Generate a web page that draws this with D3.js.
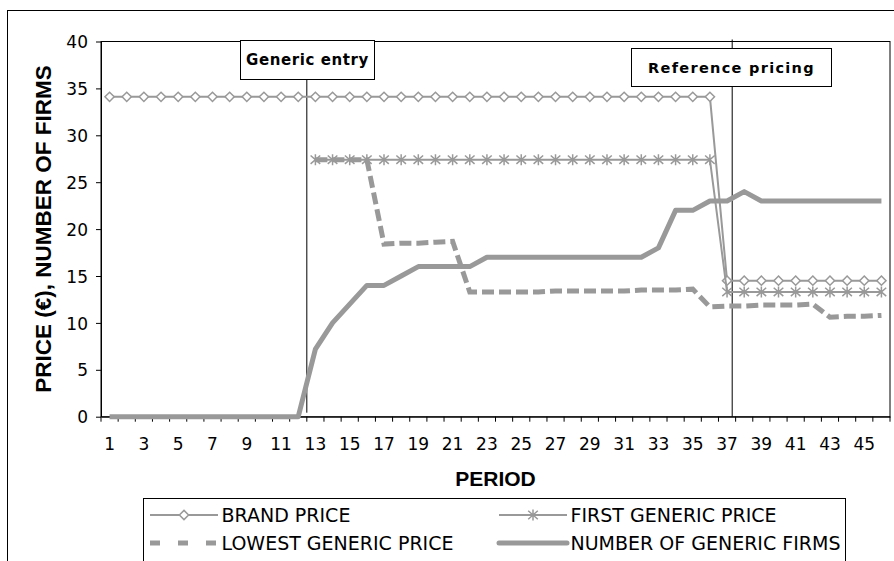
<!DOCTYPE html>
<html>

<head>
    <meta charset="utf-8">
    <script src="https://cdn.jsdelivr.net/npm/d3@7/dist/d3.min.js"></script>
    <style>
        body { margin: 0; background: #fff; }
    </style>
</head>

<body>
    <div id="my_dataviz"></div>
    <script>

        // data (periods 1..46)
        var periods = d3.range(1, 47);
        var brandPrice = [
            34.1, 34.1, 34.1, 34.1, 34.1, 34.1, 34.1, 34.1, 34.1, 34.1, 34.1, 34.1,
            34.1, 34.1, 34.1, 34.1, 34.1, 34.1, 34.1, 34.1, 34.1, 34.1, 34.1, 34.1,
            34.1, 34.1, 34.1, 34.1, 34.1, 34.1, 34.1, 34.1, 34.1, 34.1, 34.1, 34.1,
            14.5, 14.5, 14.5, 14.5, 14.5, 14.5, 14.5, 14.5, 14.5, 14.5];
        var firstGenericPrice = [
            null, null, null, null, null, null, null, null, null, null, null, null,
            27.4, 27.4, 27.4, 27.4, 27.4, 27.4, 27.4, 27.4, 27.4, 27.4, 27.4, 27.4,
            27.4, 27.4, 27.4, 27.4, 27.4, 27.4, 27.4, 27.4, 27.4, 27.4, 27.4, 27.4,
            13.3, 13.3, 13.3, 13.3, 13.3, 13.3, 13.3, 13.3, 13.3, 13.3];
        var lowestGenericPrice = [
            null, null, null, null, null, null, null, null, null, null, null, null,
            27.4, 27.4, 27.4, 27.4, 18.4, 18.5, 18.5, 18.6, 18.7, 13.3, 13.3, 13.3,
            13.3, 13.3, 13.4, 13.4, 13.4, 13.4, 13.4, 13.5, 13.5, 13.5, 13.6, 11.7,
            11.8, 11.8, 11.9, 11.9, 11.9, 12.0, 10.6, 10.7, 10.7, 10.8];
        var genericFirms = [
            0, 0, 0, 0, 0, 0, 0, 0, 0, 0, 0, 0,
            7.2, 10, 12, 14, 14, 15, 16, 16, 16, 16, 17, 17,
            17, 17, 17, 17, 17, 17, 17, 17, 18, 22, 22, 23,
            23, 24, 23, 23, 23, 23, 23, 23, 23, 23];
        var yTicks = [0, 5, 10, 15, 20, 25, 30, 35, 40];
        var seriesNames = ["BRAND PRICE", "FIRST GENERIC PRICE", "LOWEST GENERIC PRICE", "NUMBER OF GENERIC FIRMS"];
        // annotations: label and position in period units
        var events = [
            { label: "Generic entry", at: 12.5 },
            { label: "Reference pricing", at: 37.3 }
        ];

        var W = 894, H = 561;
        var margin = { top: 41.5, right: 4, bottom: 144.3, left: 101 },
            width = W - margin.left - margin.right,
            height = H - margin.top - margin.bottom;

        var grey = "#999999";

        var root = d3.select("#my_dataviz")
            .append("svg")
            .attr("width", W)
            .attr("height", H)
            .style("display", "block");

        // outer chart border
        root.append("rect")
            .attr("x", 7.5).attr("y", 10.5)
            .attr("width", W + 20).attr("height", H + 20)
            .attr("fill", "none").attr("stroke", "#000").attr("stroke-width", 1);

        var svg = root.append("g")
            .attr("transform", "translate(" + margin.left + "," + margin.top + ")");

        var x = d3.scaleBand()
            .domain(periods)
            .range([0, width])
            .padding(0);
        var bw = x.bandwidth();
        var cx = function (p) { return x(p) + bw / 2; };
        // continuous position in period units (for annotation lines)
        var xp = d3.scaleLinear().domain([0.5, 46.5]).range([0, width]);

        var y = d3.scaleLinear()
            .domain([0, 40])
            .range([height, 0]);

        // plot area border
        svg.append("rect")
            .attr("x", 0).attr("y", 0)
            .attr("width", width).attr("height", height)
            .attr("fill", "none").attr("stroke", "#000").attr("stroke-width", 1);

        // Y axis
        var yAxis = svg.append("g")
            .call(d3.axisLeft(y).tickValues(yTicks).tickSize(5).tickSizeOuter(0).tickPadding(8));
        yAxis.selectAll("text")
            .style("font-family", "DejaVu Sans, Verdana, sans-serif")
            .style("font-size", "17px")
            .attr("dy", "0.36em")
            .attr("fill", "#000");

        // X axis (labels at category centres, ticks between categories)
        var xAxis = svg.append("g")
            .attr("transform", "translate(0," + height + ")")
            .call(d3.axisBottom(x)
                .tickSizeInner(0).tickSizeOuter(0).tickPadding(21)
                .tickFormat(function (d) { return d % 2 === 1 ? d : ""; }));
        xAxis.selectAll("text")
            .style("font-family", "DejaVu Sans, Verdana, sans-serif")
            .style("font-size", "17px")
            .attr("fill", "#000");
        xAxis.selectAll(".tickmark")
            .data(periods.concat([47]))
            .enter().append("line")
            .attr("class", "tickmark")
            .attr("x1", function (d) { return d === 47 ? width : x(d); })
            .attr("x2", function (d) { return d === 47 ? width : x(d); })
            .attr("y1", 0).attr("y2", 5)
            .attr("stroke", "#000");
        root.selectAll(".domain").attr("stroke", "#000");

        // axis titles
        svg.append("text")
            .attr("x", width / 2)
            .attr("y", height + 69)
            .attr("text-anchor", "middle")
            .style("font-family", "Liberation Sans, Arial, sans-serif")
            .style("font-weight", "bold")
            .style("font-size", "21px")
            .text("PERIOD");
        svg.append("text")
            .attr("transform", "translate(" + (51 - margin.left) + "," + (height / 2) + ") rotate(-90)")
            .attr("text-anchor", "middle")
            .style("font-family", "Liberation Sans, Arial, sans-serif")
            .style("font-weight", "bold")
            .style("font-size", "22.5px")
            .text("PRICE (\u20AC), NUMBER OF FIRMS");

        // event lines
        svg.append("line")
            .attr("x1", xp(events[0].at)).attr("x2", xp(events[0].at))
            .attr("y1", 37).attr("y2", height - 4)
            .attr("stroke", "#000").attr("stroke-width", 1);
        svg.append("line")
            .attr("x1", xp(events[1].at)).attr("x2", xp(events[1].at))
            .attr("y1", -2).attr("y2", height)
            .attr("stroke", "#000").attr("stroke-width", 1);

        var lineGen = function (vals) {
            return d3.line()
                .defined(function (d) { return d != null; })
                .x(function (d, i) { return cx(periods[i]); })
                .y(function (d) { return y(d); })(vals);
        };

        // brand price
        svg.append("path")
            .attr("d", lineGen(brandPrice))
            .attr("fill", "none").attr("stroke", grey).attr("stroke-width", 2);
        var diamond = "M0,-4.6L4.6,0L0,4.6L-4.6,0Z";
        svg.append("g").selectAll("path")
            .data(brandPrice)
            .enter().append("path")
            .attr("transform", function (d, i) { return "translate(" + cx(periods[i]) + "," + y(d) + ")"; })
            .attr("d", diamond)
            .attr("fill", "#fff").attr("stroke", grey).attr("stroke-width", 1.5);

        // first generic price
        svg.append("path")
            .attr("d", lineGen(firstGenericPrice))
            .attr("fill", "none").attr("stroke", grey).attr("stroke-width", 2);
        var star = "M0,-5.5L0,5.5M-4.8,-4.2L4.8,4.2M-4.8,4.2L4.8,-4.2";
        svg.append("g").selectAll("path")
            .data(firstGenericPrice.map(function (v, i) { return { p: periods[i], v: v }; })
                .filter(function (d) { return d.v != null; }))
            .enter().append("path")
            .attr("transform", function (d) { return "translate(" + cx(d.p) + "," + y(d.v) + ")"; })
            .attr("d", star)
            .attr("fill", "none").attr("stroke", grey).attr("stroke-width", 1.5);

        // lowest generic price
        svg.append("path")
            .attr("d", lineGen(lowestGenericPrice))
            .attr("fill", "none").attr("stroke", grey)
            .attr("stroke-width", 5).attr("stroke-dasharray", "12,5");

        // number of generic firms
        svg.append("path")
            .attr("d", lineGen(genericFirms))
            .attr("fill", "none").attr("stroke", grey)
            .attr("stroke-width", 5).attr("stroke-linejoin", "round");

        // annotation boxes
        var boxes = [
            { ev: events[0], x0: 240.5, y0: 40.5, w: 134, h: 39, size: 15, ls: 0.6 },
            { ev: events[1], x0: 631.5, y0: 48.5, w: 200, h: 38, size: 14.5, ls: 1.3 }
        ];
        boxes.forEach(function (b) {
            root.append("rect")
                .attr("x", b.x0).attr("y", b.y0)
                .attr("width", b.w).attr("height", b.h)
                .attr("fill", "#fff").attr("stroke", "#000");
            root.append("text")
                .attr("x", b.x0 + b.w / 2)
                .attr("y", b.y0 + b.h / 2 + 5)
                .attr("text-anchor", "middle")
                .style("font-family", "DejaVu Sans, Verdana, sans-serif")
                .style("font-weight", "bold")
                .style("font-size", b.size + "px")
                .style("letter-spacing", b.ls + "px")
                .text(b.ev.label);
        });

        // legend
        var leg = root.append("g");
        leg.append("rect")
            .attr("x", 143.5).attr("y", 498.5)
            .attr("width", 702).attr("height", 80)
            .attr("fill", "#fff").attr("stroke", "#000");
        var legItems = [
            { name: seriesNames[0], x: 150, y: 515, kind: "diamond" },
            { name: seriesNames[1], x: 499, y: 515, kind: "star" },
            { name: seriesNames[2], x: 150, y: 543, kind: "dash" },
            { name: seriesNames[3], x: 499, y: 543, kind: "thick" }
        ];
        legItems.forEach(function (d) {
            var g = leg.append("g").attr("transform", "translate(" + d.x + "," + d.y + ")");
            var ln = g.append("line")
                .attr("x1", 0).attr("x2", 68)
                .attr("y1", 0).attr("y2", 0)
                .attr("stroke", grey);
            if (d.kind === "diamond" || d.kind === "star") {
                ln.attr("stroke-width", 2);
                g.append("path")
                    .attr("transform", "translate(34,0)")
                    .attr("d", d.kind === "diamond" ? diamond : star)
                    .attr("fill", d.kind === "diamond" ? "#fff" : "none")
                    .attr("stroke", grey).attr("stroke-width", 1.5);
            } else if (d.kind === "dash") {
                ln.attr("stroke-width", 5).attr("stroke-dasharray", "10,18");
            } else {
                ln.attr("stroke-width", 5).attr("stroke-linecap", "round");
            }
            g.append("text")
                .attr("x", 71.5)
                .attr("y", 6.8)
                .style("font-family", "DejaVu Sans, Verdana, sans-serif")
                .style("font-size", "19px")
                .text(d.name);
        });

    </script>
</body>

</html>
